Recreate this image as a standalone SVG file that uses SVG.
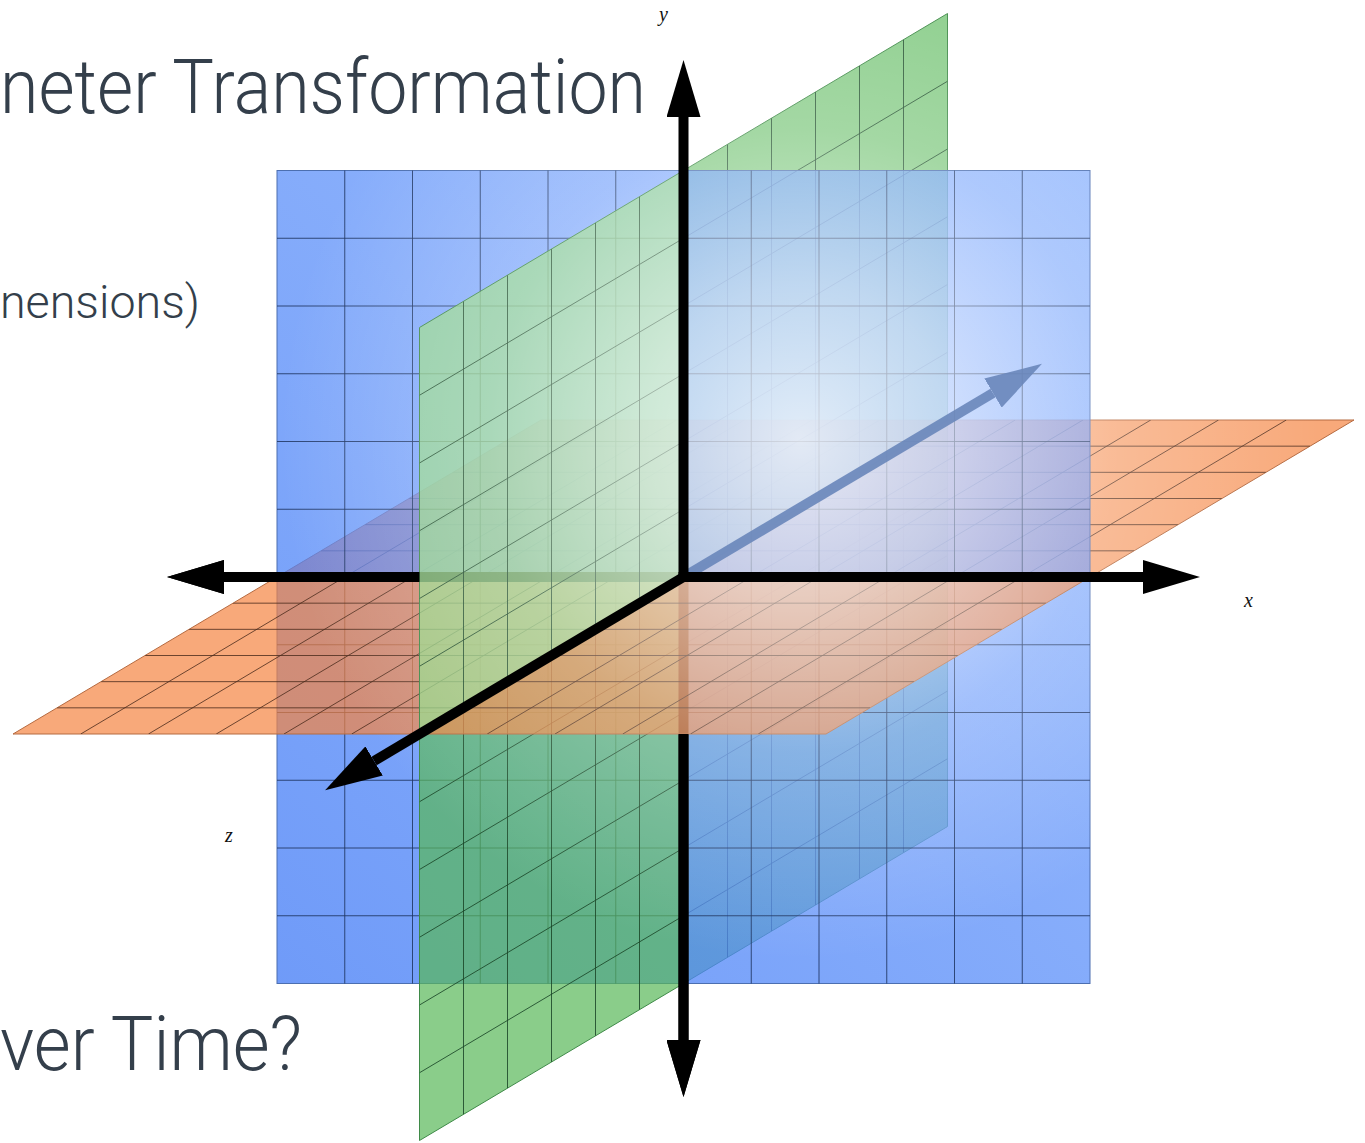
<svg xmlns="http://www.w3.org/2000/svg" width="1365" height="1143" viewBox="0 0 1365 1143">
<style>
.gl{fill:none;stroke:#1b4628;stroke-width:1;stroke-opacity:.85}
.ol{fill:none;stroke:#4a2a1c;stroke-width:1;stroke-opacity:.8}
.bl{fill:none;stroke:#1f3560;stroke-width:1;stroke-opacity:.85}
.gf{fill:#59b858;fill-opacity:.7;stroke:#3f8a48;stroke-width:1}
.gc{fill:#96d888;fill-opacity:.75;stroke:#3f8a48;stroke-width:1}
.of{fill:#f58441;fill-opacity:.7;stroke:#b56a40;stroke-width:1}
.ax{stroke:#000;stroke-width:10;fill:none;marker-end:url(#ah)}
.t{font-family:Roboto,"Noto Sans",sans-serif;font-weight:300;fill:#343f4b}
.lab{font-family:"Liberation Serif",serif;font-style:italic;font-size:20px;fill:#111}
</style>
<defs>
<marker id="ah" markerUnits="userSpaceOnUse" viewBox="0 0 57 34" markerWidth="57" markerHeight="34" refX="0" refY="17" orient="auto"><path d="M0,0 L57,17 L0,34 Z" fill="#000"/></marker>
<marker id="ahb" markerUnits="userSpaceOnUse" viewBox="0 0 57 34" markerWidth="57" markerHeight="34" refX="0" refY="17" orient="auto"><path d="M0,0 L57,17 L0,34 Z" fill="#6a87bb"/></marker>
<linearGradient id="bg" x1="0" y1="1" x2="1" y2="0"><stop offset="0" stop-color="#3f79f6"/><stop offset="1" stop-color="#78a6fd"/></linearGradient>
<radialGradient id="glow" gradientUnits="userSpaceOnUse" cx="800" cy="440" r="520"><stop offset="0" stop-color="#fff" stop-opacity=".8"/><stop offset=".3" stop-color="#fff" stop-opacity=".55"/><stop offset=".6" stop-color="#fff" stop-opacity=".22"/><stop offset="1" stop-color="#fff" stop-opacity="0"/></radialGradient>
<clipPath id="cGA"><polygon points="683.5,170.5 947.5,13.5 947.5,420 683.5,577"/></clipPath>
<clipPath id="cGB"><polygon points="683.5,577 947.5,420 947.5,826.5 683.5,983.5"/></clipPath>
<clipPath id="cGC"><polygon points="683.5,170.5 683.5,577 419.5,734 419.5,327.5"/></clipPath>
<clipPath id="cGD"><polygon points="683.5,577 683.5,983.5 419.5,1140.5 419.5,734"/></clipPath>
<clipPath id="cOA"><polygon points="277,577 541,420 947.5,420 683.5,577"/></clipPath>
<clipPath id="cOB"><polygon points="683.5,577 947.5,420 1354,420 1090,577"/></clipPath>
<clipPath id="cOC"><polygon points="277,577 683.5,577 419.5,734 13,734"/></clipPath>
<clipPath id="cOD"><polygon points="683.5,577 1090,577 826,734 419.5,734"/></clipPath>
<path id="gG" d="M903.5 39.67V852.67M859.5 65.83V878.83M815.5 92V905M771.5 118.17V931.17M727.5 144.33V957.33M683.5 170.5V983.5M639.5 196.67V1009.67M595.5 222.83V1035.83M551.5 249V1062M507.5 275.17V1088.17M463.5 301.33V1114.33M947.5 758.75L419.5 1072.75M947.5 691L419.5 1005M947.5 623.25L419.5 937.25M947.5 555.5L419.5 869.5M947.5 487.75L419.5 801.75M947.5 420L419.5 734M947.5 352.25L419.5 666.25M947.5 284.5L419.5 598.5M947.5 216.75L419.5 530.75M947.5 149L419.5 463M947.5 81.25L419.5 395.25"/>
<path id="gO" d="M497 446.17H1310M453 472.33H1266M409 498.5H1222M365 524.67H1178M321 550.83H1134M277 577H1090M233 603.17H1046M189 629.33H1002M145 655.5H958M101 681.67H914M57 707.83H870M608.75 420L80.75 734M676.5 420L148.5 734M744.25 420L216.25 734M812 420L284 734M879.75 420L351.75 734M947.5 420L419.5 734M1015.25 420L487.25 734M1083 420L555 734M1150.75 420L622.75 734M1218.5 420L690.5 734M1286.25 420L758.25 734"/>
</defs>
<rect width="1365" height="1143" fill="#fff"/>
<g id="planes-back">
<g id="yz-back-bottom"><polygon class="gf" points="683.5,577 947.5,420 947.5,826.5 683.5,983.5"/><use href="#gG" class="gl" clip-path="url(#cGB)"/></g>
<g id="xz-back-left"><polygon class="of" points="277,577 541,420 947.5,420 683.5,577"/><use href="#gO" class="ol" clip-path="url(#cOA)"/></g>
<g id="xz-back-right"><polygon class="of" points="683.5,577 947.5,420 1354,420 1090,577"/><use href="#gO" class="ol" clip-path="url(#cOB)"/></g>
<g id="yz-back-top"><polygon class="gf" points="683.5,170.5 947.5,13.5 947.5,420 683.5,577"/><use href="#gG" class="gl" clip-path="url(#cGA)"/></g>
</g>
<g id="plane-xy">
<rect x="277" y="170.5" width="813" height="813" fill="url(#bg)" fill-opacity=".75" stroke="#4c6fb0" stroke-width="1"/>
<polygon points="277,577 541,420 1090,420 1090,577" fill="#a060a0" fill-opacity=".12"/>
<path class="bl" d="M344.75 170.5V983.5M412.5 170.5V983.5M480.25 170.5V983.5M548 170.5V983.5M615.75 170.5V983.5M683.5 170.5V983.5M751.25 170.5V983.5M819 170.5V983.5M886.75 170.5V983.5M954.5 170.5V983.5M1022.25 170.5V983.5M277 238.25H1090M277 306H1090M277 373.75H1090M277 441.5H1090M277 509.25H1090M277 577H1090M277 644.75H1090M277 712.5H1090M277 780.25H1090M277 848H1090M277 915.75H1090"/>
</g>
<g id="planes-front">
<g id="yz-front-bottom"><polygon class="gf" points="683.5,577 683.5,983.5 419.5,1140.5 419.5,734"/><use href="#gG" class="gl" clip-path="url(#cGD)"/></g>
<g id="xz-front-left"><polygon class="of" points="277,577 683.5,577 419.5,734 13,734"/><use href="#gO" class="ol" clip-path="url(#cOC)"/></g>
<g id="axes-neg"><line class="ax" x1="683.5" y1="577" x2="224" y2="577"/><line class="ax" x1="683.5" y1="577" x2="683.5" y2="1040"/></g>
<g id="xz-front-right"><polygon class="of" points="683.5,577 1090,577 826,734 419.5,734"/><use href="#gO" class="ol" clip-path="url(#cOD)"/></g>
<g id="yz-front-top"><polygon class="gc" points="683.5,170.5 683.5,577 419.5,734 419.5,327.5"/><use href="#gG" class="gl" clip-path="url(#cGC)"/></g>
</g>
<rect id="glow-layer" width="1365" height="1143" fill="url(#glow)"/>
<g id="axis-z-back" opacity=".9"><line x1="683.5" y1="577" x2="993" y2="393" stroke="#6a87bb" stroke-width="10" marker-end="url(#ahb)"/></g>
<g id="axes">
<line class="ax" x1="419.5" y1="577" x2="224" y2="577"/>
<line class="ax" x1="683.5" y1="734" x2="683.5" y2="1040"/>
<line class="ax" x1="678.5" y1="577" x2="1143" y2="577"/>
<line class="ax" x1="683.5" y1="582" x2="683.5" y2="117"/>
<line class="ax" x1="683.5" y1="577" x2="374.1" y2="761"/>
</g>
<g id="axis-labels">
<text class="lab" x="659" y="21">y</text>
<text class="lab" x="1244" y="607">x</text>
<text class="lab" x="225" y="842">z</text>
</g>
<g id="slide-text">
<text class="t" x="0" y="113" font-size="76" textLength="646" lengthAdjust="spacingAndGlyphs">neter Transformation</text>
<text class="t" x="0" y="318" font-size="46" textLength="200" lengthAdjust="spacingAndGlyphs">nensions)</text>
<text class="t" x="0" y="1070" font-size="76" textLength="302" lengthAdjust="spacingAndGlyphs">ver Time?</text>
</g>
</svg>
